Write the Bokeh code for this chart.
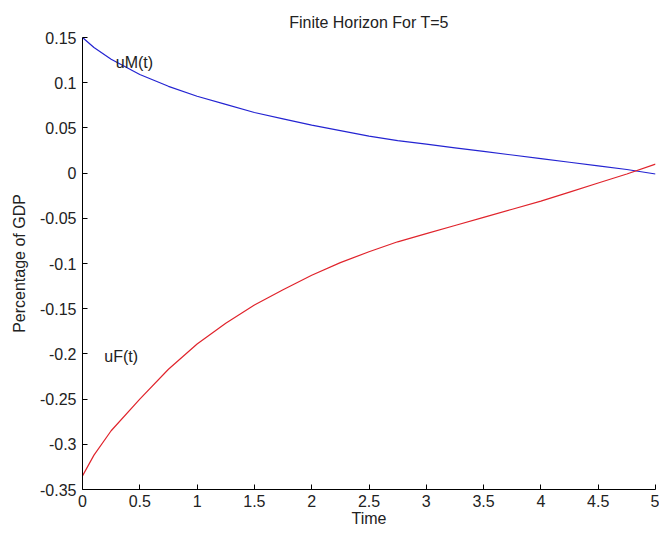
from bokeh.plotting import figure
from bokeh.models import ColumnDataSource, FixedTicker, Range1d
from bokeh.core.properties import value
from bokeh.embed import file_html
from bokeh.resources import INLINE

# time grid
t = [0.0, 0.1, 0.25, 0.5, 0.75, 1.0, 1.25, 1.5, 1.75, 2.0, 2.25, 2.5,
     2.75, 3.0, 3.25, 3.5, 3.75, 4.0, 4.25, 4.5, 4.75, 5.0]
# uM(t)
uM = [0.150, 0.139, 0.126, 0.109, 0.096, 0.085, 0.076, 0.067, 0.060, 0.053,
      0.047, 0.041, 0.036, 0.032, 0.028, 0.024, 0.020, 0.016, 0.012, 0.008,
      0.004, -0.001]
# uF(t)
uF = [-0.335, -0.312, -0.285, -0.250, -0.217, -0.189, -0.166, -0.146, -0.129,
      -0.113, -0.099, -0.087, -0.076, -0.067, -0.058, -0.049, -0.040, -0.031,
      -0.021, -0.011, -0.001, 0.010]

x_ticks = [0, 0.5, 1, 1.5, 2, 2.5, 3, 3.5, 4, 4.5, 5]
x_tick_labels = ["0", "0.5", "1", "1.5", "2", "2.5", "3", "3.5", "4", "4.5", "5"]
y_ticks = [-0.35, -0.3, -0.25, -0.2, -0.15, -0.1, -0.05, 0, 0.05, 0.1, 0.15]
y_tick_labels = ["-0.35", "-0.3", "-0.25", "-0.2", "-0.15", "-0.1", "-0.05",
                 "0", "0.05", "0.1", "0.15"]

label_names = ["uM(t)", "uF(t)"]
label_x = [0.29, 0.19]
label_y = [0.122, -0.203]

title_text = "Finite Horizon For T=5"
x_title = "Time"
y_title = "Percentage of GDP"

FONT = "Liberation Sans"
FS = "16px"

p = figure(width=659, height=537, output_backend="svg", toolbar_location=None,
           x_range=Range1d(0, 5), y_range=Range1d(-0.35, 0.15),
           min_border_left=82, min_border_right=4, min_border_top=37,
           min_border_bottom=48, background_fill_color="white",
           border_fill_color="white")
p.outline_line_color = None
p.xgrid.grid_line_color = None
p.ygrid.grid_line_color = None

p.title.text = title_text
p.title.align = "center"
p.title.text_font = FONT
p.title.text_font_size = FS
p.title.text_font_style = "normal"
p.title.text_color = "#222222"
p.title.offset = 0
p.title.standoff = 14

for ax in (p.xaxis[0], p.yaxis[0]):
    ax.axis_line_color = "black"
    ax.major_tick_line_color = "black"
    ax.major_tick_in = 5
    ax.major_tick_out = 0
    ax.minor_tick_line_color = None
    ax.major_label_text_font = FONT
    ax.major_label_text_font_size = FS
    ax.major_label_text_color = "#222222"
    ax.axis_label_text_font = FONT
    ax.axis_label_text_font_size = FS
    ax.axis_label_text_font_style = "normal"
    ax.axis_label_text_color = "#222222"

p.xaxis.ticker = FixedTicker(ticks=x_ticks)
p.xaxis.major_label_overrides = {k: v for k, v in zip(x_ticks, x_tick_labels)}
p.yaxis.ticker = FixedTicker(ticks=y_ticks)
p.yaxis.major_label_overrides = {k: v for k, v in zip(y_ticks, y_tick_labels)}
p.xaxis.axis_label = x_title
p.yaxis.axis_label = y_title
p.xaxis.major_label_standoff = 5
p.yaxis.major_label_standoff = 6
p.xaxis.axis_label_standoff = 0
p.yaxis.axis_label_standoff = 9

src = ColumnDataSource(dict(t=t, uM=uM, uF=uF))
p.line("t", "uM", source=src, line_color="#2424d2", line_width=1.2)
p.line("t", "uF", source=src, line_color="#e0242c", line_width=1.2)

lab = ColumnDataSource(dict(x=label_x, y=label_y, text=label_names))
p.text("x", "y", text="text", source=lab, text_font=value(FONT),
       text_font_size=FS, text_align="left", text_baseline="middle",
       text_color="#222222")

open("out.html", "w").write(file_html(p, INLINE))
